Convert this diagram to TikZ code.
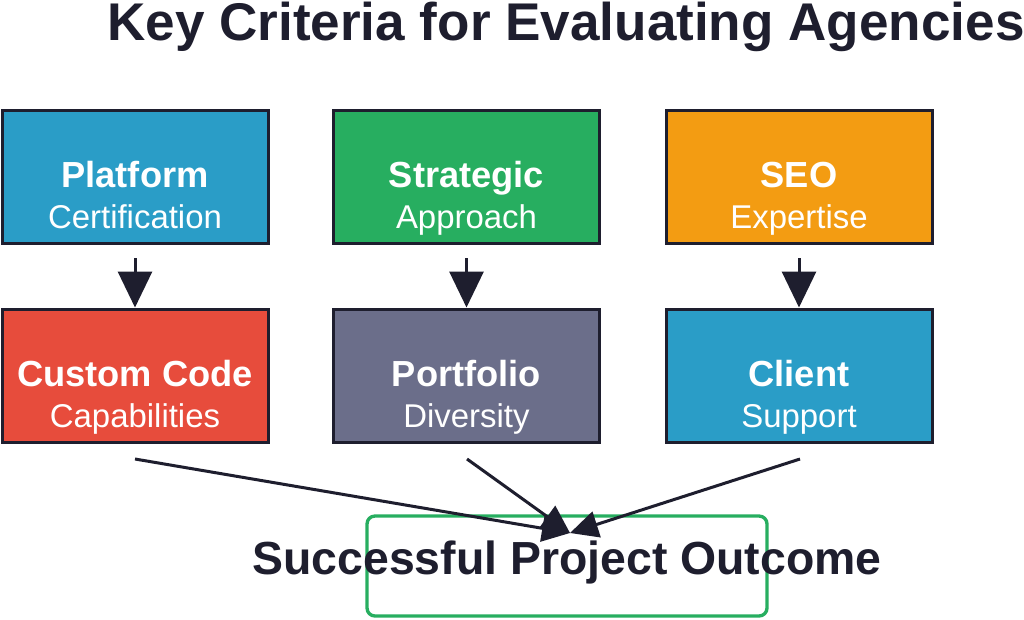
\documentclass[tikz,border=0pt]{standalone}
\usepackage{fontspec}
\setmainfont{Liberation Sans}
\usetikzlibrary{arrows.meta}
\definecolor{ink}{HTML}{1E1E2E}
\definecolor{cblue}{HTML}{2A9DC7}
\definecolor{cgreen}{HTML}{27AE60}
\definecolor{corange}{HTML}{F39C12}
\definecolor{cred}{HTML}{E74C3C}
\definecolor{cgray}{HTML}{6B6E8A}
\begin{document}
\begin{tikzpicture}[x=0.75pt,y=-0.75pt,
  crit/.style={draw=ink, line width=2.25pt, minimum width=199.5pt, minimum height=99.75pt, inner sep=0pt},
  ttl/.style={font=\bfseries\fontsize{27.2}{30}\selectfont, text=white, anchor=base},
  sub/.style={font=\fontsize{24.7}{28}\selectfont, text=white, anchor=base},
  down/.style={draw=ink, line width=2.25pt, -{Triangle[width=25.5pt,length=27pt]}},
  conv/.style={draw=ink, line width=2.25pt, -{Triangle[width=20pt,length=21pt]}}]
\useasboundingbox (0,0) rectangle (1024,619);
\fill[white] (0,0) rectangle (1024,619);
\node[font=\bfseries\fontsize{39.8}{44}\selectfont, text=ink, anchor=base] (title) at (566,40) {Key Criteria for Evaluating Agencies};
% row 1
\node[crit, fill=cblue] (b1) at (135,176.5) {};
\node[crit, fill=cgreen] (b2) at (466.5,176.5) {};
\node[crit, fill=corange] (b3) at (799,176.5) {};
% row 2
\node[crit, fill=cred] (b4) at (135,375.5) {};
\node[crit, fill=cgray] (b5) at (466.5,375.5) {};
\node[crit, fill=cblue] (b6) at (799,375.5) {};
% texts
\node[ttl] (t1) at (135,187) {Platform};
\node[sub] (s1) at (135,228) {Certification};
\node[ttl] (t2) at (466.5,187) {Strategic};
\node[sub] (s2) at (466.5,228) {Approach};
\node[ttl] (t3) at (799,187) {SEO};
\node[sub] (s3) at (799,228) {Expertise};
\node[ttl] (t4) at (135,386) {Custom Code};
\node[sub] (s4) at (135,427) {Capabilities};
\node[ttl] (t5) at (466.5,386) {Portfolio};
\node[sub] (s5) at (466.5,427) {Diversity};
\node[ttl] (t6) at (799,386) {Client};
\node[sub] (s6) at (799,427) {Support};
% outcome
\draw[cgreen, line width=2.5pt, rounded corners=6pt] (367,516) rectangle (767,616);
\node[font=\bfseries\fontsize{34.8}{40}\selectfont, text=ink, anchor=base] (out) at (567,574) {Successful Project Outcome};
% down arrows
\draw[down] (b1.south |- 0,258) -- (b1.south |- b4.north);
\draw[down] (b2.south |- 0,258) -- (b2.south |- b5.north);
\draw[down] (b3.south |- 0,258) -- (b3.south |- b6.north);
% converging arrows
\coordinate (c1) at (135,459);
\coordinate (c2) at (467,459);
\coordinate (c3) at (800,459);
\coordinate (goal) at (570,533);
\draw[conv] (c1) -- (goal);
\draw[conv] (c2) -- (goal);
\draw[conv] (c3) -- (goal);
\end{tikzpicture}
\end{document}
